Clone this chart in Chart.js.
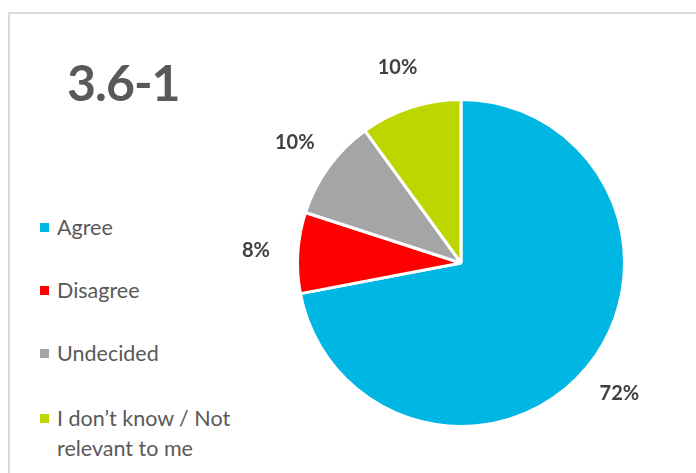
<!DOCTYPE html>
<html>
<head>
<meta charset="utf-8">
<script src="https://cdn.jsdelivr.net/npm/chart.js@4/dist/chart.umd.min.js"></script>
<style>
  html, body { margin: 0; padding: 0; background: #fff; }
  #wrap { position: relative; width: 696px; height: 473px; overflow: hidden; font-family: Lato, "Open Sans", sans-serif; }
  #frame { position: absolute; left: 8px; top: 12px; width: 720px; height: 500px; border-left: 2px solid #d9d9d9; border-top: 2px solid #d9d9d9; }
  #title { position: absolute; left: 67px; top: 52px; font-size: 50px; font-weight: bold; color: #595959; letter-spacing: -1px; }
  #legend { position: absolute; left: 40px; top: 0; }
  .item { position: absolute; left: 0; width: 240px; font-size: 21.5px; line-height: 30px; color: #595959; white-space: nowrap; }
  .item i { position: absolute; left: 0; top: 11px; width: 9px; height: 9px; }
  .item span { display: block; margin-left: 17px; }
  #box { position: absolute; left: 0; top: 0; width: 696px; height: 473px; }
</style>
</head>
<body>
<div id="wrap">
  <div id="frame"></div>
  <div id="title">3.6-1</div>
  <div id="legend"></div>
  <div id="box"><canvas id="pie"></canvas></div>
</div>
<script>
const labels = ['Agree', 'Disagree', 'Undecided', 'I don\u2019t know / Not relevant to me'];
const values = [72, 8, 10, 10];
const colors = ['#00B6E2', '#FF0000', '#A5A5A5', '#BED600'];
const legendTops = [212, 275, 338, 403];

// legend on the left, built from the same arrays
const legend = document.getElementById('legend');
labels.forEach((name, i) => {
    const div = document.createElement('div');
    div.className = 'item';
    div.style.top = legendTops[i] + 'px';
    div.innerHTML = `<i style="background:${colors[i]}"></i><span>${name.replace('Not ', 'Not<br>')}</span>`;
    legend.appendChild(div);
});

// percentage labels placed outside each slice
const outsideLabels = {
    id: 'outsideLabels',
    afterDatasetsDraw(chart) {
        const ctx = chart.ctx;
        const meta = chart.getDatasetMeta(0);
        ctx.save();
        ctx.font = 'bold 20px Lato, "Open Sans", sans-serif';
        ctx.fillStyle = '#404040';
        ctx.textAlign = 'center';
        ctx.textBaseline = 'middle';
        meta.data.forEach((arc, i) => {
            const p = arc.getProps(['x', 'y', 'startAngle', 'endAngle', 'outerRadius'], true);
            const mid = (p.startAngle + p.endAngle) / 2;
            const r = p.outerRadius + 42;
            ctx.fillText(values[i] + '%', p.x + Math.cos(mid) * r, p.y + Math.sin(mid) * r);
        });
        ctx.restore();
    }
};

new Chart(document.getElementById('pie'), {
    type: 'pie',
    data: {
        labels: labels,
        datasets: [{
            data: values,
            backgroundColor: colors,
            borderColor: '#fff',
            borderWidth: 3
        }]
    },
    options: {
        responsive: true,
        maintainAspectRatio: false,
        animation: false,
        layout: { padding: { left: 296, right: 70, top: 98, bottom: 45 } },
        plugins: {
            legend: { display: false },
            tooltip: { enabled: false }
        }
    },
    plugins: [outsideLabels]
});
</script>
</body>
</html>
